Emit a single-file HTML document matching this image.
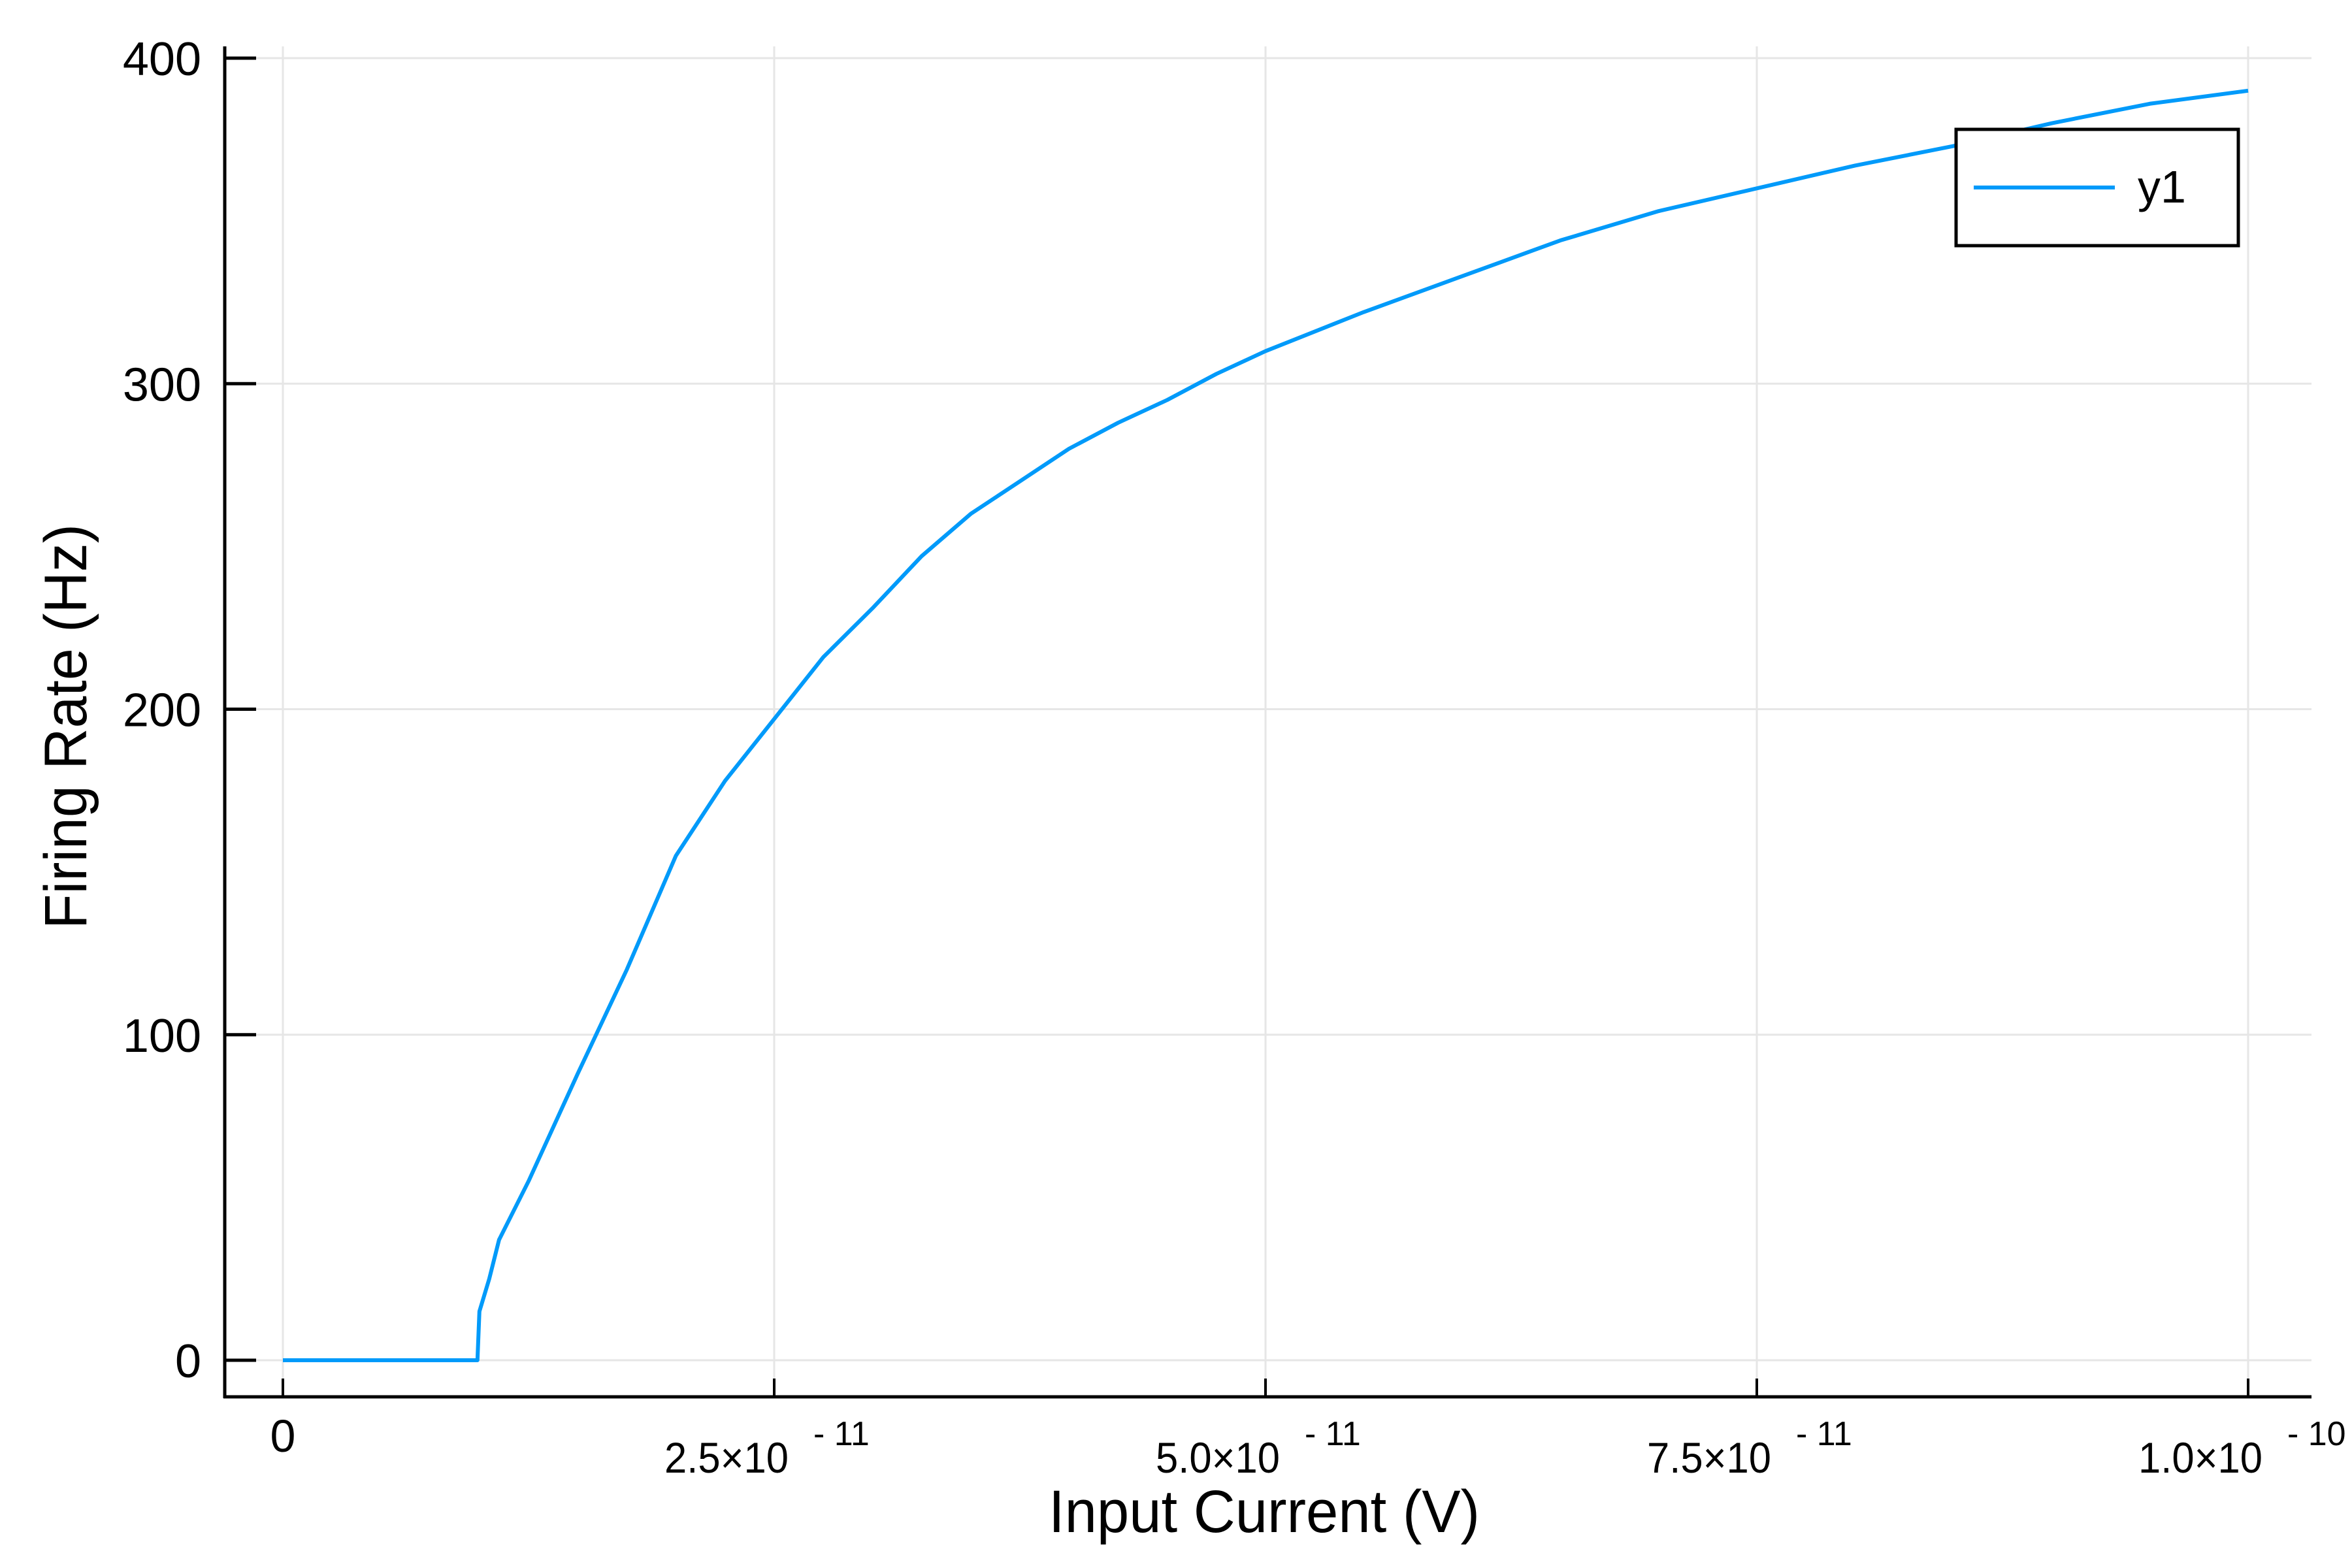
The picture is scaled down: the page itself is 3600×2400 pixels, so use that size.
<!DOCTYPE html>
<html><head><meta charset="utf-8"><style>
body{margin:0;background:#fff}
svg{display:block;font-family:"Liberation Sans",Arial,sans-serif}
</style></head><body>
<svg id="chart" width="3600" height="2400" viewBox="0 0 3600 2400" xmlns="http://www.w3.org/2000/svg">
<rect width="3600" height="2400" fill="#fff"/>
<g id="grid"></g>
<g id="axes"></g>
<g id="series"></g>
<text x="1935" y="2345" font-size="92" text-anchor="middle" textLength="660" lengthAdjust="spacingAndGlyphs">Input Current (V)</text>
<text x="0" y="0" font-size="92" text-anchor="middle" transform="translate(132,1112) rotate(-90)" textLength="620" lengthAdjust="spacingAndGlyphs">Firing Rate (Hz)</text>
<g>
<rect x="2994" y="198" width="432" height="178" fill="#fff" stroke="#000" stroke-width="5"/>
<line x1="3021" y1="287" x2="3237" y2="287" stroke="#009AFA" stroke-width="6"/>
<text x="3272" y="310" font-size="70">y1</text>
</g>
</svg>
<script>
const xs = [0,0.5,0.99,1.0,1.05,1.1,1.25,1.5,1.75,2.0,2.25,2.5,2.75,3.0,3.25,3.5,3.75,4.0,4.25,4.5,4.75,5.0,5.5,6.0,6.5,7.0,7.5,8.0,8.5,9.0,9.5,10.0];
const ys = [0,0,0,15,25,37,55,88,120,155,178,197,216,231,247,260,270,280,288,295,303,310,322,333,344,353,360,367,373,380,386,390];
const yTicks = [0,100,200,300,400];
const yTickLabels = ["0","100","200","300","400"];
const xTicks = [0,2.5,5.0,7.5,10.0];
const xTickMant = ["0","2.5×10","5.0×10","7.5×10","1.0×10"];
const xTickExp = ["","- 11","- 11","- 11","- 10"];
const NS="http://www.w3.org/2000/svg";
const X=v=>433+v*300.8;
const Y=v=>2082-v*4.9825;
function mk(tag,attrs,parent,txt){const e=document.createElementNS(NS,tag);for(const k in attrs)e.setAttribute(k,attrs[k]);if(txt!==undefined)e.textContent=txt;parent.appendChild(e);return e;}
const grid=document.getElementById('grid'),axes=document.getElementById('axes'),ser=document.getElementById('series');
yTicks.forEach((t,i)=>{
 const g=mk('line',{x1:344,x2:3538,y1:Y(t),y2:Y(t),stroke:'#e6e6e6','stroke-width':3},grid);
 
 
 const tk=mk('line',{x1:344,x2:392,y1:Y(t),y2:Y(t),stroke:'#000','stroke-width':5},axes);
 
 
 const lb=mk('text',{x:308,y:Y(t)+26,'font-size':72,'text-anchor':'end'},axes,yTickLabels[i]);
 
 
});
xTicks.forEach((t,i)=>{
 const g=mk('line',{x1:X(t),x2:X(t),y1:71,y2:2138,stroke:'#e6e6e6','stroke-width':3},grid);
 
 
 const tk=mk('line',{x1:X(t),x2:X(t),y1:2138,y2:2110,stroke:'#000','stroke-width':4},axes);
 
 
 if(i===0){
  const lb=mk('text',{x:X(t),y:2222,'font-size':70,'text-anchor':'middle'},axes,xTickMant[i]);
  
  
 } else {
  const lb=mk('text',{x:X(t)+22,y:2254,'font-size':66,'text-anchor':'end',textLength:190,lengthAdjust:'spacingAndGlyphs'},axes,xTickMant[i]);
  
  
  const ex=mk('text',{x:X(t)+60,y:2212,'font-size':52},axes,xTickExp[i]);
  
  
 }
});
const ax1=mk('line',{x1:344,x2:344,y1:71,y2:2140,stroke:'#000','stroke-width':5},axes);


const ax2=mk('line',{x1:342,x2:3538,y1:2138,y2:2138,stroke:'#000','stroke-width':5},axes);


const p=mk('polyline',{points:xs.map((x,i)=>X(x)+','+Y(ys[i])).join(' '),fill:'none',stroke:'#009AFA','stroke-width':6,'stroke-linejoin':'round'},ser);


</script>
</body></html>
